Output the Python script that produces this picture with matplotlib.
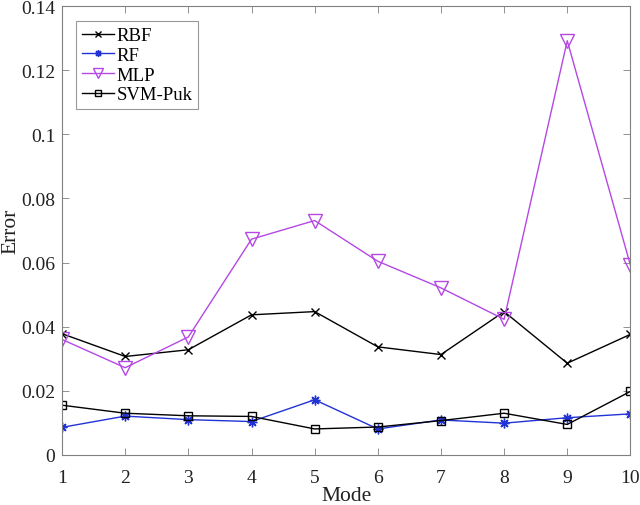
#!/usr/bin/env python3
"""Error per mode for four classifiers (RBF, RF, MLP, SVM-Puk)."""
import matplotlib
matplotlib.use("Agg")
import matplotlib.pyplot as plt

plt.rcParams["font.family"] = ["Liberation Serif", "DejaVu Serif"]

# Data
MODES = [1, 2, 3, 4, 5, 6, 7, 8, 9, 10]
RBF = [0.0378, 0.0307, 0.0328, 0.0437, 0.0447, 0.0337, 0.0313, 0.0447, 0.0286, 0.0376]
RF = [0.0086, 0.0121, 0.0110, 0.0104, 0.0172, 0.0081, 0.0109, 0.0099, 0.0116, 0.0128]
MLP = [0.0360, 0.0272, 0.0368, 0.0673, 0.0731, 0.0604, 0.0521, 0.0423, 0.1292, 0.0592]
SVM_PUK = [0.0155, 0.0130, 0.0122, 0.0120, 0.0081, 0.0087, 0.0107, 0.0130, 0.0095, 0.0198]
Y_TICKS = [0, 0.02, 0.04, 0.06, 0.08, 0.1, 0.12, 0.14]
Y_TICK_LABELS = ["0", "0.02", "0.04", "0.06", "0.08", "0.1", "0.12", "0.14"]

BLACK = "#000000"
BLUE = "#2233D6"
PURPLE = "#B548E4"
FRAME = "#808080"
TEXT = "#222222"

# MATLAB-style asterisk (plus overlaid with x)
ASTERISK = (8, 2, 0)

fig = plt.figure(figsize=(6.4, 5.06), dpi=100)
ax = fig.add_axes([0.097, 0.099, 0.888, 0.887])

ax.plot(MODES, RBF, color=BLACK, lw=1.0, marker="x", ms=6, mew=1.0, label="RBF")
ax.plot(MODES, RF, color=BLUE, lw=1.0, marker=ASTERISK, ms=7, mew=1.0,
        label="RF")
ax.plot(MODES, MLP, color=PURPLE, lw=1.0, marker="v", ms=9.5, mew=1.0,
        mfc="none", label="MLP")
ax.plot(MODES, SVM_PUK, color=BLACK, lw=1.0, marker="s", ms=6, mew=1.0,
        mfc="none", label="SVM-Puk")

ax.set_xlim(1, 10)
ax.set_ylim(0, 0.14)
ax.set_xticks(MODES)
ax.set_yticks(Y_TICKS)
ax.set_yticklabels(Y_TICK_LABELS)
ax.tick_params(direction="in", top=True, right=True, length=5, width=0.6,
               color=FRAME, labelsize=14, labelcolor=TEXT, pad=5)
ax.tick_params(axis="x", pad=10)
for s in ax.spines.values():
    s.set_color(FRAME)
    s.set_linewidth(0.8)

ax.set_xlabel("Mode", fontsize=15.5, color=TEXT)
ax.set_ylabel("Error", fontsize=15.5, color=TEXT)
ax.xaxis.set_label_coords(0.5, -0.069)
ax.yaxis.set_label_coords(-0.074, 0.5)

leg = ax.legend(loc="upper left", bbox_to_anchor=(0.025, 0.966), fontsize=13.5,
                frameon=True, fancybox=False, borderpad=0.3, labelspacing=0.14,
                handlelength=1.7, handletextpad=0.15, borderaxespad=0.0)
leg.get_frame().set_edgecolor(FRAME)
leg.get_frame().set_linewidth(0.8)
for h in leg.legend_handles:
    h.set_markersize(h.get_markersize() * 0.7)

fig.savefig("out.png", dpi=100)
